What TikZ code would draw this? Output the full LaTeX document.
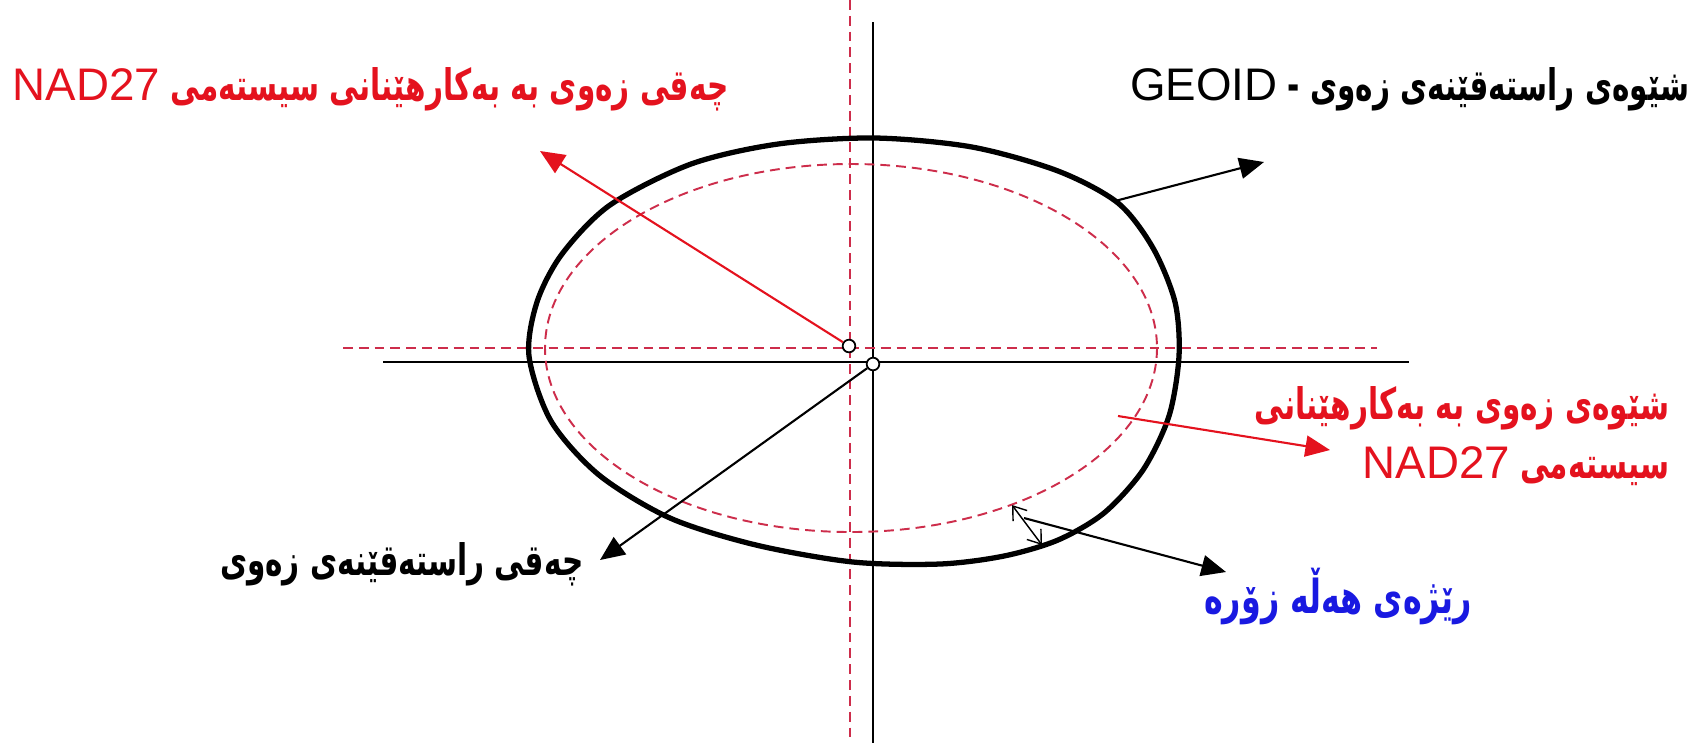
\documentclass[tikz,border=0pt]{standalone}
\usepackage{fontspec}
\setmainfont{Liberation Sans}
\newfontfamily\kurdfont[Script=Arabic, Scale=0.95, FakeStretch=0.68]{DejaVu Sans}
\TeXXeTstate=1
\usetikzlibrary{arrows.meta}

\definecolor{nadred}{RGB}{228,18,30}
\definecolor{dashred}{RGB}{205,45,75}
\definecolor{errblue}{RGB}{25,25,225}

\newcommand{\kurd}[1]{{\kurdfont\bfseries\beginR #1\endR}}
\newcommand{\latn}[1]{\beginL{\normalfont #1}\endL}

\tikzset{
  earthline/.style={line width=1.5pt, line join=round},
  nadline/.style={line width=0.55pt, dashred, dash pattern=on 2.8pt off 1.7pt},
  axisline/.style={line width=0.6pt},
  pointer/.style={line width=0.6pt, -{Triangle[length=7pt,width=6pt]}},
  gapmark/.style={line width=0.4pt, {Straight Barb[length=3.5pt,width=5pt]}-{Straight Barb[length=3.5pt,width=5pt]}},
  ctrdot/.style={circle, draw, fill=white, line width=0.5pt, inner sep=0pt, minimum size=3.6pt},
  lbl/.style={inner sep=0pt, font=\fontsize{13}{17}\selectfont},
}

\begin{document}
\begin{tikzpicture}[x=0.1mm, y=-0.1mm]
\useasboundingbox (0,0) rectangle (1693,743);

% axes
\draw[axisline] (873,22) -- (873,743);
\draw[axisline] (383,362) -- (1409,362);
\draw[nadline] (850,0) -- (850,743);
\draw[nadline] (343,348) -- (1377,348);

% earth and NAD27 ellipse
\draw[earthline] plot[smooth cycle] coordinates {
  (529,356) (537,302) (562,254) (610,205) (691,164) (778,144) (875,138)
  (972,147) (1058,171) (1118,203) (1153,248) (1175,302) (1179,356)
  (1169,416) (1143,470) (1104,513) (1058,540) (1004,556) (940,564)
  (853,562) (756,545) (670,518) (599,475) (551,421)};
\draw[nadline] (851,348) ellipse [x radius=306, y radius=184];

% centres
\node[ctrdot] (nadctr) at (849,346) {};
\node[ctrdot] (truectr) at (873,364) {};

% labels
\node[lbl, nadred, anchor=west] (nadlbl) at (12,89)
  {\kurd{چەقی زەوی بە بەکارهێنانی سیستەمی \latn{NAD27}}};
\node[lbl, anchor=east] (geoidlbl) at (1690,89)
  {\kurd{شێوەی راستەقێنەی زەوی - \latn{GEOID}}};
\node[lbl, nadred, anchor=east, align=right] (shapelbl) at (1670,436)
  {\kurd{شێوەی زەوی بە بەکارهێنانی}\\\kurd{سیستەمی \latn{NAD27}}};
\node[lbl, anchor=east] (truelbl) at (584,564)
  {\kurd{چەقی راستەقێنەی زەوی}};
\node[lbl, errblue, font=\fontsize{14}{17}\selectfont] (errlbl) at (1338,596)
  {\kurd{رێژەی هەڵە زۆرە}};

% pointers
\coordinate (nadtip) at (540,151);
\coordinate (geoidfoot) at (1115,201);
\coordinate (geoidtip) at (1264,162);
\coordinate (shapefoot) at (1118,416);
\coordinate (shapetip) at (1330,450);
\coordinate (truetip) at (600,560);
\coordinate (gapin) at (1012,505);
\coordinate (gapout) at (1042,545);
\coordinate (errfoot) at (1024,518);
\coordinate (errtip) at (1226,572);

\draw[pointer, nadred] (nadctr) -- (nadtip);
\draw[pointer] (geoidfoot) -- (geoidtip);
\draw[pointer, nadred] (shapefoot) -- (shapetip);
\draw[pointer] (truectr) -- (truetip);
\draw[gapmark] (gapin) -- (gapout);
\draw[pointer] (errfoot) -- (errtip);
\end{tikzpicture}
\end{document}
